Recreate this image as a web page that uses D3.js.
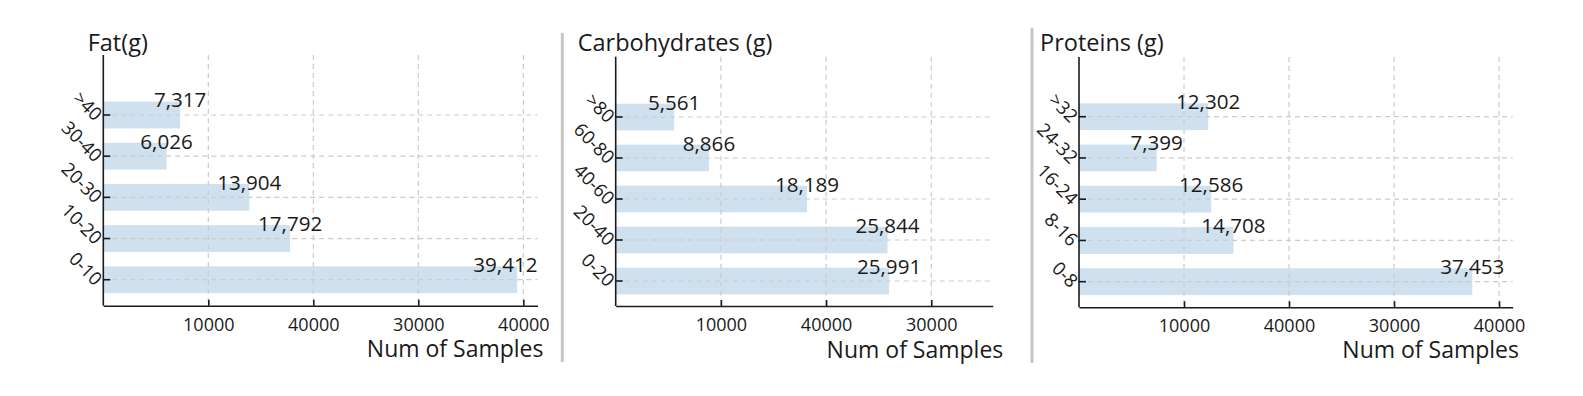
<!DOCTYPE html>
<html>
<head>
<meta charset="utf-8">
<script src="https://cdn.jsdelivr.net/npm/d3@7"></script>
<style>
  body { margin: 0; background: #fff; }
  svg { font-family: "Open Sans", sans-serif; }
</style>
</head>
<body>
<svg width="1583" height="396"></svg>
<script>
// data
const panelTitles = ['Fat(g)', 'Carbohydrates (g)', 'Proteins (g)'];
const xAxisTitle = 'Num of Samples';

const fatCats = ['0-10', '10-20', '20-30', '30-40', '>40'];
const fatValues = [39412, 17792, 13904, 6026, 7317];

const carbCats = ['0-20', '20-40', '40-60', '60-80', '>80'];
const carbValues = [25991, 25844, 18189, 8866, 5561];

const protCats = ['0-8', '8-16', '16-24', '24-32', '>32'];
const protValues = [37453, 14708, 12586, 7399, 12302];

// the original labels really say 40000 at the 20000 tick
const tickValues = [10000, 20000, 30000, 40000];
const tickLabels = ['10000', '40000', '30000', '40000'];
const carbTickValues = [10000, 20000, 30000];
const carbTickLabels = ['10000', '40000', '30000'];

// layout of the three panels
const panels = [
  { cats: fatCats, values: fatValues, ticks: tickValues, labels: tickLabels,
    left: 103.3, right: 537.5, top: 55, bottom: 305.7, band: [94.4, 300.3], xMax: 41350,
    titleX: 87.7, titleY: 50.7, axTitleX: 543.5, axTitleY: 356.7, sep: null },
  { cats: carbCats, values: carbValues, ticks: carbTickValues, labels: carbTickLabels,
    left: 615.7, right: 992.7, top: 56.7, bottom: 306, band: [96.5, 301.5], xMax: 35840,
    titleX: 577.7, titleY: 50.7, axTitleX: 1003.3, axTitleY: 358, sep: [562.3, 33, 362] },
  { cats: protCats, values: protValues, ticks: tickValues, labels: tickLabels,
    left: 1079, right: 1512.7, top: 57, bottom: 307.3, band: [96.1, 302.3], xMax: 41300,
    titleX: 1040, titleY: 51, axTitleX: 1519, axTitleY: 358.3, sep: [1032, 28, 363] }
];

const ink = '#1a1a1a';
const gridColor = '#cccccc';
const barColor = '#cfe1ef';
const fmt = d3.format(',');

const svg = d3.select('svg');

panels.forEach((p, i) => {
  const g = svg.append('g');
  const data = p.cats.map((c, j) => ({ cat: c, value: p.values[j] }));

  const scX = d3.scaleLinear().domain([0, p.xMax]).range([p.left, p.right]);
  const scY = d3.scaleBand()
    .domain(p.cats.slice().reverse())
    .range(p.band)
    .paddingInner(0.35).paddingOuter(0.175);
  const mid = d => scY(d) + scY.bandwidth() / 2;

  if (p.sep) {
    g.append('line')
      .attr('x1', p.sep[0]).attr('x2', p.sep[0])
      .attr('y1', p.sep[1]).attr('y2', p.sep[2])
      .attr('stroke', '#c6c6c6').attr('stroke-width', 3);
  }

  // bars
  g.selectAll('rect.bar').data(data).enter()
    .append('rect')
    .attr('class', 'bar')
    .attr('x', scX(0))
    .attr('y', d => scY(d.cat))
    .attr('width', d => scX(d.value) - scX(0))
    .attr('height', scY.bandwidth())
    .attr('fill', barColor);

  // grid
  g.selectAll('line.vgrid').data(p.ticks).enter()
    .append('line')
    .attr('x1', d => scX(d)).attr('x2', d => scX(d))
    .attr('y1', p.top).attr('y2', p.bottom)
    .attr('stroke', gridColor).attr('stroke-width', 1.2)
    .attr('stroke-dasharray', '5,4');
  g.selectAll('line.hgrid').data(p.cats).enter()
    .append('line')
    .attr('x1', p.left).attr('x2', p.right)
    .attr('y1', mid).attr('y2', mid)
    .attr('stroke', gridColor).attr('stroke-width', 1.2)
    .attr('stroke-dasharray', '5,4');

  // x axis
  const xAx = g.append('g')
    .attr('transform', 'translate(0,' + p.bottom + ')')
    .call(d3.axisBottom(scX)
      .tickValues(p.ticks)
      .tickFormat((d, k) => p.labels[k])
      .tickSizeInner(-6).tickSizeOuter(0));
  xAx.select('.domain').attr('stroke', ink).attr('stroke-width', 1.6);
  xAx.selectAll('.tick line').attr('stroke', ink).attr('stroke-width', 1.6);
  xAx.selectAll('.tick text')
    .attr('y', 25).attr('dy', null)
    .attr('fill', ink)
    .style('font-size', '18px')
    .style('font-family', '"Open Sans", sans-serif');

  // y axis
  const yAx = g.append('g')
    .attr('transform', 'translate(' + p.left + ',0)')
    .call(d3.axisLeft(scY).tickSizeInner(-7).tickSizeOuter(0));
  yAx.select('.domain').remove();
  yAx.append('line')
    .attr('y1', p.top).attr('y2', p.bottom)
    .attr('stroke', ink).attr('stroke-width', 1.6);
  yAx.selectAll('.tick line').attr('stroke', ink).attr('stroke-width', 1.6);
  yAx.selectAll('.tick text')
    .attr('x', null).attr('dy', null)
    .attr('text-anchor', 'end')
    .attr('transform', 'translate(-9,7) rotate(45)')
    .attr('fill', ink)
    .style('font-size', '18.5px')
    .style('font-family', '"Open Sans", sans-serif');

  // value labels, centred on the bar end but kept inside the plot
  g.selectAll('text.val').data(data).enter()
    .append('text')
    .attr('class', 'val')
    .attr('text-anchor', 'middle')
    .attr('y', d => mid(d.cat) - 7.5)
    .attr('fill', ink)
    .style('font-size', '20.6px')
    .text(d => fmt(d.value))
    .attr('x', function (d) {
      const w = this.getComputedTextLength();
      return Math.min(scX(d.value), p.right - w / 2);
    });

  // titles
  g.append('text')
    .attr('x', p.titleX).attr('y', p.titleY)
    .attr('fill', ink)
    .style('font-size', '23.5px')
    .text(panelTitles[i]);
  g.append('text')
    .attr('x', p.axTitleX).attr('y', p.axTitleY)
    .attr('text-anchor', 'end')
    .attr('fill', ink)
    .style('font-size', '23px')
    .text(xAxisTitle);
});
</script>
</body>
</html>
